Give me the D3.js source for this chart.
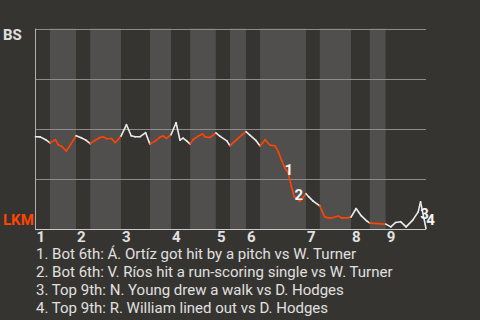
<!DOCTYPE html>
<html><head><meta charset="utf-8">
<script src="https://cdn.jsdelivr.net/npm/d3@7"></script>
<style>html,body{margin:0;padding:0;background:#363430;}svg{display:block;}</style>
</head><body>
<svg id="chart" width="480" height="320"></svg>
<script>
// ---- data ----
const topTeam = "BS";
const bottomTeam = "LKM";
// game progress (% of game) for each play
const progress = [0,1.2,2.6,3.7, 5.1,5.8,6.8,7.9,10.4, 11.7,12.9,14.0, 15.2,16.5,17.4,18.2,19.5,20.4,21.9,
  23.3,24.5,25.5,26.8,28.2,29.3, 30.6,31.9,32.7,33.5,34.7, 36.0,37.0,37.8,38.7,39.6,
  40.4,41.7,42.8,43.4,44.7,45.5,46.2, 47.2,49.0,49.8, 51.5,52.8,53.9, 54.9,56.5,57.5,
  58.8,60.0,61.3,62.2,63.0,63.9,64.7,65.6,66.3,67.0,67.7,68.4,69.3, 70.0,71.1,72.8,
  74.1,75.4,76.3,77.5,78.4,79.8,80.8, 82.1,83.4,84.8,85.6, 89.7,
  91.0,92.2,93.5,94.9,96.6,98.0,98.6,100];
// BS win probability (%)
const winProb = [45.9,45.8,44.4,42.8, 44.4,41.9,41.0,38.7,46.4, 45.4,44.2,42.4, 44.0,45.5,45.8,44.9,45.0,42.9,46.2,
  51.9,46.4,45.9,45.9,47.9,42.2, 43.7,45.7,46.3,45.0,46.9, 52.9,44.2,45.2,43.8,42.2,
  44.5,46.2,47.2,45.8,45.5,46.7,47.8, 46.2,43.8,41.4, 44.4,46.7,48.4, 46.7,43.9,41.3,
  44.4,41.7,41.4,38.3,34.2,30.0,28.0,20.2,15.8,14.9,13.7,15.2,17.4, 15.8,13.7,11.3,
  5.7,5.2,5.5,6.2,5.3,5.3,5.7, 10.0,6.4,3.8,2.7, 2.2,
  0.8,3.0,3.4,0.8,4.2,8.3,13.3,0];
// start of each half inning (top, bottom, top, ...)
const halfInningStarts = [0,3.7,10.4,14.0,21.9,29.3,34.7,39.6,46.2,49.8,53.9,57.5,69.3,72.8,80.8,85.6,89.7];
const gameEnd = 100;
const inningLabels = ["1","2","3","4","5","6","7","8","9"];
const eventPlays = [57, 61, 85, 86];
const eventNotes = [
  "1. Bot 6th: Á. Ortíz got hit by a pitch vs W. Turner",
  "2. Bot 6th: V. Ríos hit a run-scoring single vs W. Turner",
  "3. Top 9th: N. Young drew a walk vs D. Hodges",
  "4. Top 9th: R. William lined out vs D. Hodges"
];

// ---- layout ----
(function () {
const W = 480, H = 320;
const plotL = 35.5, plotR = 426, plotT = 28.5, plotB = 228.5;
const bg = "#363430", light = "#504f4d", orange = "#ff4500", txt = "#e0e0e0";
const font = "Roboto, 'Noto Sans', sans-serif";
const labelOffsets = [[0.7, 2], [-1, -1], [4, 17], [4.5, -4]];

const svg = d3.select("#chart");
const x = d3.scaleLinear().domain([0, gameEnd]).range([plotL, plotR]);
const y = d3.scaleLinear().domain([0, 100]).range([plotB, plotT]);

svg.append("rect").attr("width", W).attr("height", H).attr("fill", bg);

const halves = halfInningStarts.map((s, i) => ({
  start: s, end: i + 1 < halfInningStarts.length ? halfInningStarts[i + 1] : gameEnd, isBottom: i % 2 === 1
}));

svg.append("g").selectAll("rect").data(halves).join("rect")
  .attr("x", d => x(d.start)).attr("width", d => x(d.end) - x(d.start))
  .attr("y", plotT).attr("height", plotB - plotT + 1)
  .attr("fill", d => d.isBottom ? light : bg);

// grid lines
svg.append("g").selectAll("line").data([25, 50, 75, 100]).join("line")
  .attr("x1", plotL).attr("x2", plotR)
  .attr("y1", d => Math.round(y(d)) + 0.5).attr("y2", d => Math.round(y(d)) + 0.5)
  .attr("stroke", "#8c8c8c").attr("stroke-width", 1);

// axes lines
svg.append("line").attr("x1", plotL).attr("x2", plotL).attr("y1", plotT).attr("y2", plotB + 1.5)
  .attr("stroke", "#b0b0b0").attr("stroke-width", 1);
svg.append("line").attr("x1", plotL).attr("x2", plotR).attr("y1", plotB + 1).attr("y2", plotB + 1)
  .attr("stroke", "#c8c8c8").attr("stroke-width", 1);

// line segments
const pts = progress.map((p, i) => ({p, v: winProb[i]}));
function halfAt(p) {
  let idx = 0;
  halves.forEach((h, i) => { if (p >= h.start) idx = i; });
  return halves[idx];
}
const segs = d3.pairs(pts).map(([a, b]) => ({a, b, isBottom: halfAt((a.p + b.p) / 2).isBottom}));
svg.append("g").selectAll("line").data(segs).join("line")
  .attr("x1", d => x(d.a.p)).attr("y1", d => y(d.a.v))
  .attr("x2", d => x(d.b.p)).attr("y2", d => y(d.b.v))
  .attr("stroke", d => d.isBottom ? orange : "#ececec")
  .attr("stroke-width", 1.6).attr("stroke-linecap", "round");

// team labels
svg.append("text").attr("x", 3).attr("y", 39.5).text(topTeam)
  .attr("font-family", font).attr("font-size", 15).attr("font-weight", "bold").attr("fill", txt);
svg.append("text").attr("x", 3).attr("y", 225).text(bottomTeam)
  .attr("font-family", font).attr("font-size", 15).attr("font-weight", "bold").attr("fill", orange);

// inning labels
svg.append("g").selectAll("text").data(inningLabels).join("text")
  .attr("x", (d, i) => x(halfInningStarts[i * 2]) + 1).attr("y", 241.5)
  .text(d => d)
  .attr("font-family", font).attr("font-size", 15).attr("font-weight", "bold").attr("fill", txt);

// event markers
svg.append("g").selectAll("text").data(eventPlays).join("text")
  .attr("x", (d, i) => x(progress[d]) + labelOffsets[i][0])
  .attr("y", (d, i) => y(winProb[d]) + labelOffsets[i][1])
  .attr("text-anchor", "middle")
  .text((d, i) => String(i + 1))
  .attr("font-family", font).attr("font-size", 15).attr("font-weight", "bold").attr("fill", "#f4f4f4");

// notes
svg.append("g").selectAll("text").data(eventNotes).join("text")
  .attr("x", 36).attr("y", (d, i) => 258.5 + i * 18)
  .text(d => d)
  .attr("font-family", font).attr("font-size", 15).attr("fill", txt);
})();
</script>
</body></html>
